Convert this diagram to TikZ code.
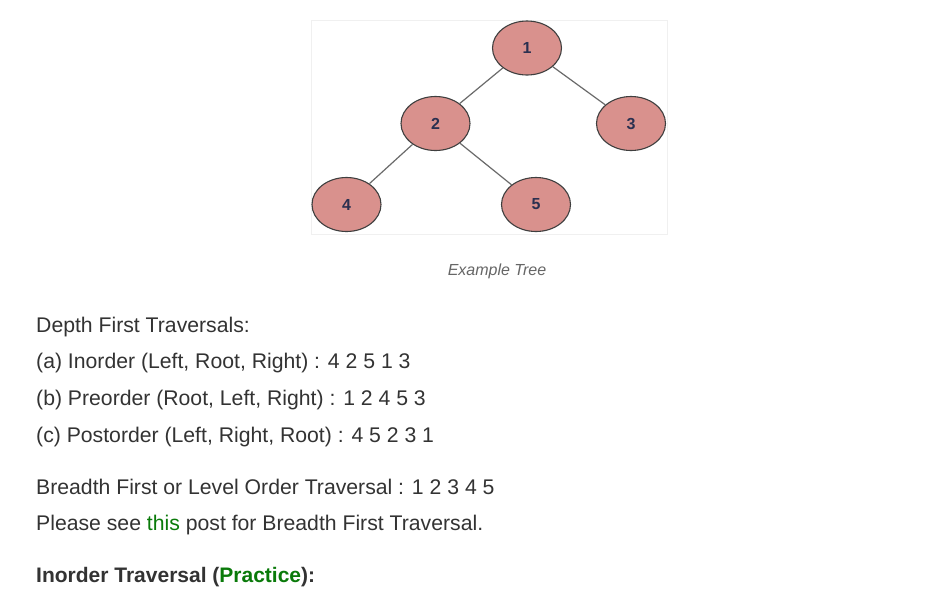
\documentclass[tikz,border=0pt]{standalone}
\usepackage{fontspec}
\setmainfont{Liberation Sans}
\usetikzlibrary{shapes.geometric}
\definecolor{nodefill}{HTML}{D9918D}
\definecolor{nodeline}{HTML}{3F3F3F}
\definecolor{numcol}{HTML}{2B3050}
\definecolor{edgecol}{HTML}{6A6A6A}
\definecolor{txt}{HTML}{333333}
\definecolor{capcol}{HTML}{666666}
\definecolor{gfg}{HTML}{0A7A0A}
\tikzset{
  treenode/.style={ellipse, draw=nodeline, line width=1.1pt, fill=nodefill,
    minimum width=69pt, minimum height=54pt, inner sep=0pt,
    font=\fontsize{16}{16}\selectfont\bfseries, text=numcol},
  edge/.style={draw=edgecol, line width=1.2pt},
  bodytext/.style={anchor=base west, inner sep=0pt, text=txt,
    font=\fontsize{21.2}{24}\selectfont},
}
\begin{document}
\begin{tikzpicture}[x=1pt,y=-1pt]
\useasboundingbox (0,0) rectangle (947,600);
\fill[white] (0,0) rectangle (947,600);
\fill[black!4] (311,21) rectangle (668,235);
\node[draw=black!6, fill=white, minimum width=356pt, minimum height=214pt, inner sep=0pt] (panel) at (489,127) {};
\node[treenode] (n1) at (527,48) {1};
\node[treenode] (n2) at (435.5,123.5) {2};
\node[treenode] (n3) at (631,123.5) {3};
\node[treenode] (n4) at (346.5,204.5) {4};
\node[treenode] (n5) at (536,204.5) {5};
\draw[edge] (n1) -- (n2);
\draw[edge] (n1) -- (n3);
\draw[edge] (n2) -- (n4);
\draw[edge] (n2) -- (n5);
\node[text=capcol, font=\fontsize{16}{18}\selectfont\itshape, inner sep=0pt] (cap) at (497,271) {Example Tree};
\node[bodytext] (l1) at (36,332) {Depth First Traversals:};
\node[bodytext] (l2) at (36,368.5) {(a) Inorder (Left, Root, Right) : 4 2 5 1 3};
\node[bodytext] (l3) at (36,405.5) {(b) Preorder (Root, Left, Right) : 1 2 4 5 3};
\node[bodytext] (l4) at (36,442) {(c) Postorder (Left, Right, Root) : 4 5 2 3 1};
\node[bodytext] (l5) at (36,494) {Breadth First or Level Order Traversal : 1 2 3 4 5};
\node[bodytext] (l6) at (36,530.5) {Please see \textcolor{gfg}{this} post for Breadth First Traversal.};
\node[bodytext, font=\fontsize{21}{24}\selectfont\bfseries] (l7) at (36,582) {Inorder Traversal (\textcolor{gfg}{Practice}):};
\end{tikzpicture}
\end{document}
